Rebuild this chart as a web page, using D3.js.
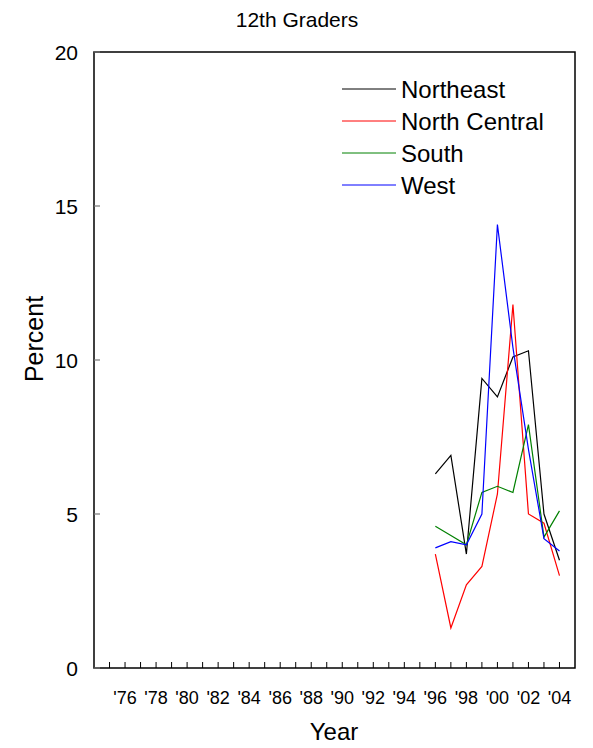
<!DOCTYPE html>
<html><head><meta charset="utf-8">
<script src="https://cdn.jsdelivr.net/npm/d3@7"></script>
<style>body{margin:0;background:#fff}svg{display:block;font-family:Arial,"Liberation Sans",sans-serif}</style>
</head><body><svg id="c" width="593" height="748"></svg>
<script>
const years = [1996,1997,1998,1999,2000,2001,2002,2003,2004];
const northeast    = [6.3,6.9,3.7,9.4,8.8,10.1,10.3,5.0,3.5];
const northCentral = [3.7,1.3,2.7,3.3,5.65,11.8,5.0,4.7,3.0];
const south        = [4.6,4.3,4.0,5.7,5.9,5.7,7.9,4.25,5.1];
const west         = [3.9,4.1,4.0,5.0,14.4,10.4,7.1,4.2,3.8];
const seriesNames  = ["Northeast","North Central","South","West"];
const seriesColors = ["#000000","#ff0000","#008000","#0000ff"];
const yTicks = [0,5,10,15,20];
const xTickYears = d3.range(1975,2005);
const xLabelYears = d3.range(1976,2005,2);

const svg = d3.select("#c");
const L=94, R=575, T=52, B=668;
const x = d3.scaleLinear().domain([1974,2005]).range([L,R]);
const y = d3.scaleLinear().domain([0,20]).range([B,T]);

// frame
svg.append("rect").attr("x",L).attr("y",T).attr("width",R-L).attr("height",B-T)
  .attr("fill","none").attr("stroke","#000").attr("stroke-width",1.5);

// y axis ticks (inward)
svg.selectAll(".yt").data(yTicks).join("line")
  .attr("x1",L).attr("x2",L+6).attr("y1",d=>y(d)).attr("y2",d=>y(d))
  .attr("stroke","#777").attr("stroke-width",1.2);
svg.selectAll(".yl").data(yTicks).join("text")
  .attr("x",78).attr("y",d=>y(d)+7.5).attr("text-anchor","end")
  .attr("font-size",21).text(d=>d);

// x ticks (inward)
svg.selectAll(".xt").data(xTickYears).join("line")
  .attr("x1",d=>x(d)).attr("x2",d=>x(d)).attr("y1",B).attr("y2",B-6)
  .attr("stroke","#000").attr("stroke-width",1);
svg.selectAll(".xl").data(xLabelYears).join("text")
  .attr("x",d=>x(d)).attr("y",704).attr("text-anchor","middle")
  .attr("font-size",18).text(d=>"'"+String(d%100).padStart(2,"0"));

// titles
svg.append("text").attr("x",297).attr("y",27).attr("text-anchor","middle")
  .attr("font-size",21).text("12th Graders");
svg.append("text").attr("x",334).attr("y",740).attr("text-anchor","middle")
  .attr("font-size",24).text("Year");
svg.append("text").attr("transform","translate(43,339) rotate(-90)")
  .attr("text-anchor","middle").attr("font-size",25).text("Percent");

// lines
const allSeries = [northeast,northCentral,south,west];
const line = d3.line().x((d,i)=>x(years[i])).y(d=>y(d));
allSeries.forEach((s,k)=>{
  svg.append("path").datum(s).attr("d",line).attr("fill","none")
    .attr("stroke",seriesColors[k]).attr("stroke-width",1.2);
});

// legend
const legY=[89,121,153,185];
seriesNames.forEach((n,k)=>{
  svg.append("line").attr("x1",342).attr("x2",396).attr("y1",legY[k]).attr("y2",legY[k])
    .attr("stroke",seriesColors[k]).attr("stroke-width",1);
  svg.append("text").attr("x",401).attr("y",legY[k]+8.5).attr("font-size",24).text(n);
});
</script></body></html>
